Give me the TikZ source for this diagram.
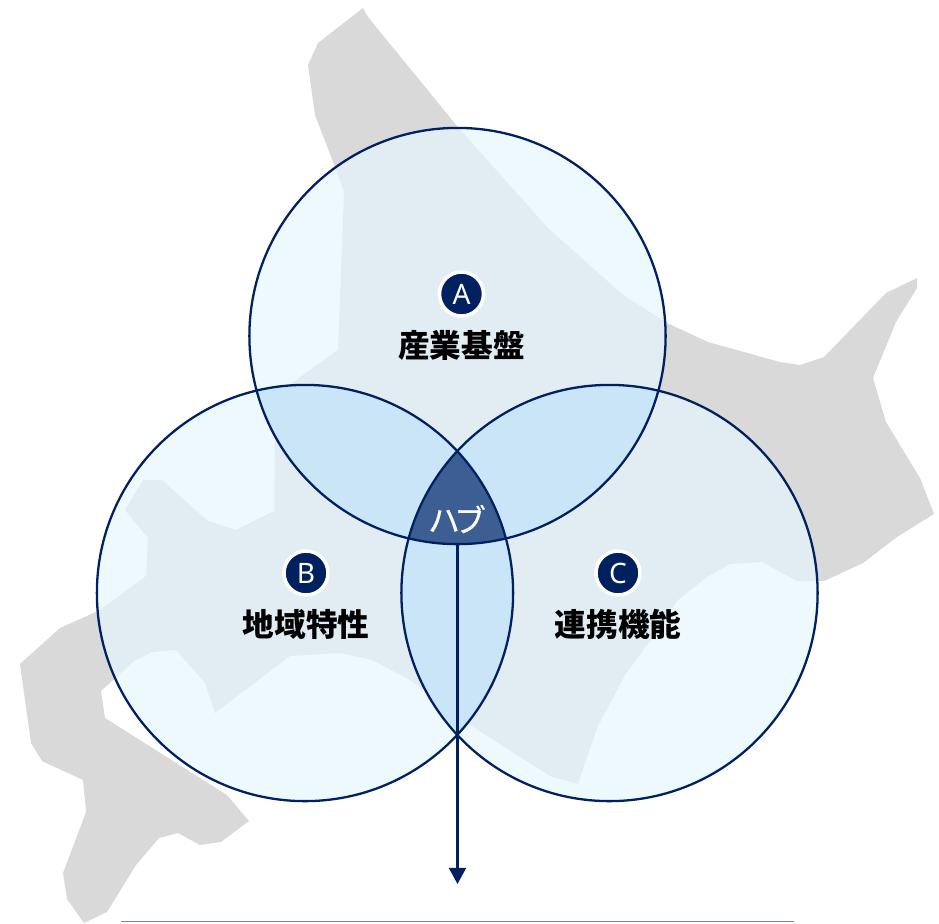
\documentclass[tikz,border=0pt]{standalone}
\usepackage{fontspec}
\setmainfont{Noto Sans}
\newfontfamily\jpfont{Noto Sans CJK JP}
\newfontfamily\hubfont[FakeBold=0.6]{Noto Sans CJK JP}
\usetikzlibrary{positioning, arrows.meta, shapes.geometric}
\definecolor{navy}{HTML}{002060}
\definecolor{landgray}{HTML}{D9D9D9}
\definecolor{paleblue}{RGB}{231,246,254}
\definecolor{lensblue}{HTML}{CAE5F7}
\definecolor{hubblue}{HTML}{3C5E93}
\definecolor{rulecolor}{HTML}{6F82BA}
\tikzstyle{venn} = [circle, minimum size=4.16cm, inner sep=0pt, outer sep=0pt, fill=paleblue, fill opacity=0.71]
\tikzstyle{ring} = [draw=navy, line width=0.65pt]
\tikzstyle{lens} = [fill=lensblue]
\tikzstyle{badge} = [circle, minimum size=0.44cm, inner sep=0pt, draw=white, line width=1pt, fill=navy, text=white, font=\fontsize{8pt}{9pt}\selectfont]
\tikzstyle{title} = [inner sep=0pt, text=black, font=\jpfont\bfseries\fontsize{9pt}{11pt}\selectfont]
\tikzstyle{arrow} = [navy, line width=0.65pt, -{Triangle[width=4.8pt,length=4.6pt]}]

\begin{document}
\begin{tikzpicture}[x=0.01cm, y=-0.01cm, node distance=0.51cm]
\useasboundingbox (0,0) rectangle (939,923);

\fill [landgray] (363,8) -- (368,17) -- (457,126) -- (472,143) -- (548,228) -- (623,295) -- (667,323) -- (708,342) -- (780,362) -- (800,365) -- (824,357) -- (886,293) -- (917,278) -- (917,288) -- (896,322) -- (873,378) -- (886,422) -- (920,478) -- (934,514) -- (897,537) -- (863,563) -- (824,581) -- (797,581) -- (762,562) -- (730,564) -- (707,577) -- (678,600) -- (653,637) -- (625,675) -- (597,728) -- (578,784) -- (550,776) -- (470,725) -- (410,680) -- (372,660) -- (340,653) -- (290,656) -- (215,713) -- (205,683) -- (176,650) -- (152,652) -- (134,661) -- (101,691) -- (105,718) -- (227,795) -- (249,821) -- (221,842) -- (200,845) -- (178,833) -- (159,838) -- (136,865) -- (107,912) -- (84,923) -- (67,899) -- (63,873) -- (86,812) -- (83,780) -- (42,761) -- (31,743) -- (20,664) -- (60,628) -- (100,610) -- (146,576) -- (148,538) -- (125,510) -- (143,480) -- (162,480) -- (208,521) -- (236,530) -- (274,511) -- (275,395) -- (338,350) -- (344,192) -- (335,167) -- (315,115) -- (308,65) -- (318,43) -- cycle;

\node (circleA) [venn] at (457.5,336) {};
\node (circleB) [venn] at (305,593) {};
\node (circleC) [venn] at (609.5,593) {};

\begin{scope}
\clip (circleA.center) circle [radius=2.08cm];
\fill [lens] (circleB.center) circle [radius=2.08cm];
\fill [lens] (circleC.center) circle [radius=2.08cm];
\end{scope}
\begin{scope}
\clip (circleB.center) circle [radius=2.08cm];
\fill [lens] (circleC.center) circle [radius=2.08cm];
\end{scope}
\begin{scope}
\clip (circleA.center) circle [radius=2.08cm];
\clip (circleB.center) circle [radius=2.08cm];
\fill [hubblue] (circleC.center) circle [radius=2.08cm];
\end{scope}

\draw [ring] (circleA.center) circle [radius=2.08cm];
\draw [ring] (circleB.center) circle [radius=2.08cm];
\draw [ring] (circleC.center) circle [radius=2.08cm];

\node (badgeA) [badge] at (461.5,294) {A};
\node (titleA) [title, below of=badgeA] {\jpfont 産業基盤};
\node (badgeB) [badge] at (306,573) {B};
\node (titleB) [title, below of=badgeB] {\jpfont 地域特性};
\node (badgeC) [badge] at (618,573) {C};
\node (titleC) [title, below of=badgeC] {\jpfont 連携機能};
\node (hub) [inner sep=0pt, text=white, font=\hubfont\fontsize{9pt}{10pt}\selectfont] at (457,519) {ハ\kern-1.6pt ブ};

\coordinate (hubfoot) at (457.5,544);
\coordinate (arrowend) at (457.5,884);
\draw [arrow] (hubfoot) -- (arrowend);

\coordinate (baseleft) at (121,921.5);
\coordinate (baseright) at (794,921.5);
\draw [rulecolor, line width=0.45pt] (baseleft) -- (baseright);
\end{tikzpicture}
\end{document}
